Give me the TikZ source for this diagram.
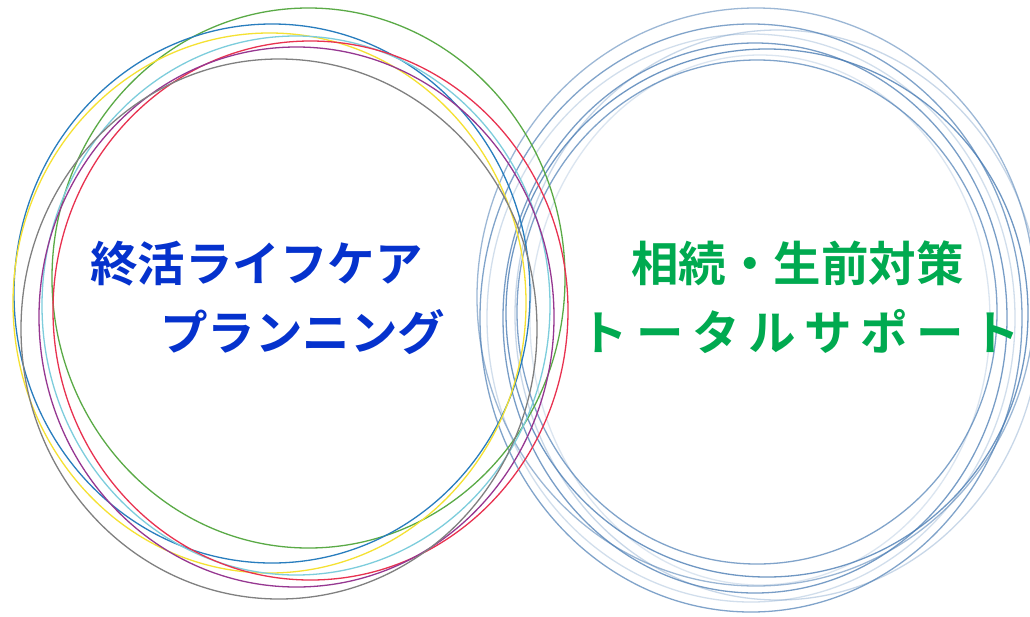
\documentclass[tikz,border=0pt]{standalone}
\usepackage{fontspec}
\newfontfamily\jpb{Noto Sans CJK JP Bold}
\definecolor{cgreen}{RGB}{90,170,70}
\definecolor{cblue}{RGB}{40,125,190}
\definecolor{cyellow}{RGB}{245,225,50}
\definecolor{ccyan}{RGB}{125,205,220}
\definecolor{cred}{RGB}{232,50,80}
\definecolor{cpurple}{RGB}{150,55,145}
\definecolor{cgray}{RGB}{128,128,128}
\definecolor{csteel}{RGB}{75,125,180}
\definecolor{tblue}{RGB}{5,50,205}
\definecolor{tgreen}{RGB}{0,170,80}
\tikzset{
  ring/.style={line width=1.3pt},
  sring/.style={line width=1.3pt, draw=csteel},
  ltext/.style={font=\jpb\fontsize{47.5}{50}\selectfont, text=tblue, inner sep=0pt, anchor=base west},
  rtext/.style={font=\jpb\fontsize{47.5}{50}\selectfont, text=tgreen, inner sep=0pt, anchor=base west}
}
\begin{document}
\begin{tikzpicture}[x=1pt,y=-1pt]
\useasboundingbox[fill=white] (0,0) rectangle (1030,616);
% right group
\draw[sring, draw opacity=0.55] (756,297) ellipse [x radius=279pt, y radius=289pt];
\draw[sring, draw opacity=0.7] (751,318) ellipse [x radius=271pt, y radius=294pt];
\draw[sring, draw opacity=0.25] (751,318) ellipse [x radius=264pt, y radius=284pt];
\draw[sring, draw opacity=0.75] (755,318) ellipse [x radius=252pt, y radius=275pt];
\draw[sring, draw opacity=0.8] (767,313) ellipse [x radius=261pt, y radius=264pt];
\draw[sring, draw opacity=0.7] (757,312) ellipse [x radius=240pt, y radius=252pt];
\draw[sring, draw opacity=0.3] (778,315) ellipse [x radius=263pt, y radius=285pt];
\draw[sring, draw opacity=0.2] (760,320) ellipse [x radius=230pt, y radius=265pt];
% left group
\draw[ring, draw=cgreen] (308.5,278) ellipse [x radius=256.5pt, y radius=270pt];
\draw[ring, draw=cblue] (272,293.5) ellipse [x radius=258pt, y radius=269.5pt];
\draw[ring, draw=cyellow] (269.5,303) ellipse [x radius=256.5pt, y radius=270pt];
\draw[ring, draw=ccyan] (296,305.5) ellipse [x radius=254pt, y radius=269.5pt];
\draw[ring, draw=cred] (310.5,310.5) ellipse [x radius=257.5pt, y radius=269.5pt];
\draw[ring, draw=cpurple] (296.5,317) ellipse [x radius=257.5pt, y radius=270pt];
\draw[ring, draw=cgray] (279,329) ellipse [x radius=258pt, y radius=270pt];
% texts
\node[ltext] (l1) at (90,281) {終活ライフケア};
\node[ltext] (l2) at (160,350) {プランニング};
\node[rtext] (r1) at (631,281) {相続・生前対策};
\node[rtext] (r2) at (580,350) {ト\hspace{8.5pt}ー\hspace{8.5pt}タ\hspace{8.5pt}ル\hspace{8.5pt}サ\hspace{8.5pt}ポ\hspace{8.5pt}ー\hspace{8.5pt}ト};
\end{tikzpicture}
\end{document}
